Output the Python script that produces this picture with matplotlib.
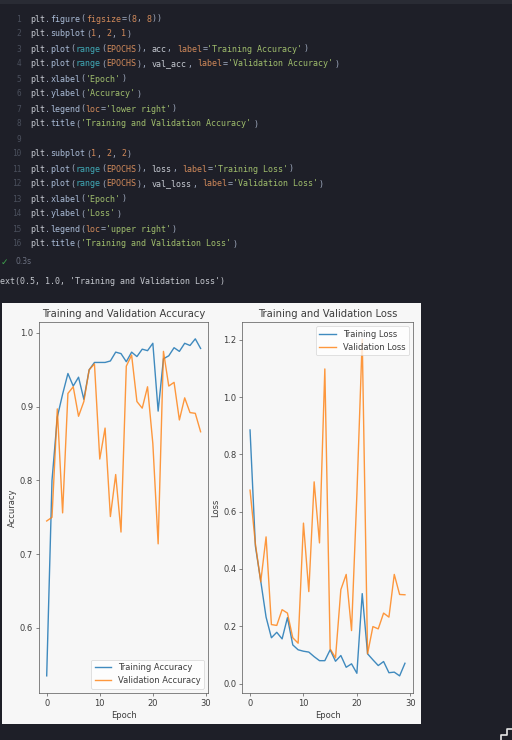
import re

import matplotlib
matplotlib.use("Agg")
import matplotlib.pyplot as plt
from matplotlib.lines import Line2D
from matplotlib.patches import Rectangle

EPOCHS = 30
acc = [0.535, 0.800, 0.886, 0.917, 0.945, 0.928, 0.940, 0.910, 0.950, 0.960,
       0.960, 0.960, 0.962, 0.974, 0.972, 0.961, 0.974, 0.968, 0.978, 0.976,
       0.986, 0.894, 0.965, 0.969, 0.980, 0.975, 0.986, 0.983, 0.992, 0.979]
val_acc = [0.745, 0.750, 0.897, 0.756, 0.918, 0.927, 0.887, 0.907, 0.950, 0.958,
           0.829, 0.871, 0.751, 0.808, 0.730, 0.955, 0.970, 0.907, 0.898, 0.927,
           0.850, 0.714, 0.975, 0.928, 0.933, 0.882, 0.912, 0.892, 0.891, 0.866]
loss = [0.885, 0.480, 0.358, 0.232, 0.160, 0.179, 0.156, 0.230, 0.135, 0.118,
        0.113, 0.110, 0.094, 0.080, 0.080, 0.118, 0.078, 0.098, 0.057, 0.069,
        0.036, 0.314, 0.104, 0.083, 0.063, 0.077, 0.038, 0.040, 0.027, 0.071]
val_loss = [0.675, 0.488, 0.355, 0.512, 0.206, 0.203, 0.258, 0.246, 0.160, 0.141,
            0.560, 0.321, 0.704, 0.491, 1.098, 0.121, 0.090, 0.328, 0.381, 0.185,
            0.660, 1.202, 0.104, 0.199, 0.191, 0.246, 0.232, 0.381, 0.311, 0.310]

code_lines = [
    "plt.figure(figsize=(8, 8))",
    "plt.subplot(1, 2, 1)",
    "plt.plot(range(EPOCHS), acc, label='Training Accuracy')",
    "plt.plot(range(EPOCHS), val_acc, label='Validation Accuracy')",
    "plt.xlabel('Epoch')",
    "plt.ylabel('Accuracy')",
    "plt.legend(loc='lower right')",
    "plt.title('Training and Validation Accuracy')",
    "",
    "plt.subplot(1, 2, 2)",
    "plt.plot(range(EPOCHS), loss, label='Training Loss')",
    "plt.plot(range(EPOCHS), val_loss, label='Validation Loss')",
    "plt.xlabel('Epoch')",
    "plt.ylabel('Loss')",
    "plt.legend(loc='upper right')",
    "plt.title('Training and Validation Loss')",
]
# the leading "T" is scrolled off the left edge in the screenshot
output_text = "ext(0.5, 1.0, 'Training and Validation Loss')"

W, H = 512, 740
BG = "#1e1f28"
C_NUM = "#d0895a"
C_STR = "#9fbd6c"
C_TEAL = "#3fa9b6"
C_FUNC = "#a9bbd6"
C_VAR = "#c6cad2"
C_PUNC = "#a0abc0"
C_LINENO = "#4a4f5c"
MONO = "DejaVu Sans Mono"
CW = 5.07  # px per character


def fx(x):
    return x / W


def fy(y):
    return 1 - y / H


fig = plt.figure(figsize=(W / 100, H / 100), dpi=100, facecolor=BG)
fig.add_artist(Rectangle((0, fy(4)), 1, 4 / H, transform=fig.transFigure,
                         facecolor="#292b34", edgecolor="none", zorder=0))

# code cell with a tiny tokenizer for the syntax colours
token_re = re.compile(r"('[^']*'|\d+(?:\.\d+)?|[A-Za-z_]\w*|\s+|.)")
for n, line in enumerate(code_lines):
    y = 19 + n * 15
    fig.text(fx(21), fy(y), str(n + 1), family=MONO, fontsize=5.6,
             color=C_LINENO, ha="right", va="center")
    toks = token_re.findall(line)
    col = 0
    for i, tok in enumerate(toks):
        nxt = next((t for t in toks[i + 1:] if not t.isspace()), "")
        if tok.isspace():
            color = None
        elif tok.startswith("'"):
            color = C_STR
        elif tok[0].isdigit():
            color = C_NUM
        elif tok == "range":
            color = C_TEAL
        elif tok == "EPOCHS" or (tok[0].isalpha() and nxt == "="):
            color = C_NUM
        elif tok[0].isalpha() or tok[0] == "_":
            color = C_FUNC if i > 0 and toks[i - 1] == "." else C_VAR
        else:
            color = C_PUNC
        if color:
            fig.text(fx(30 + col * CW), fy(y), tok, family=MONO, fontsize=6.06,
                     color=color, ha="left", va="center")
        col += len(tok)

fig.text(fx(1), fy(262), "\u2713", fontsize=6.5, color="#3fa34d", va="center")
fig.text(fx(16), fy(262), "0.3s", fontsize=5.5, color="#6b7080", va="center")
fig.text(fx(0), fy(282), output_text, family=MONO, fontsize=6.06,
         color="#c4c7ce", ha="left", va="center")

# embedded chart image
fig.add_artist(Rectangle((fx(2), fy(724)), (421 - 2) / W, (724 - 303) / H,
                         transform=fig.transFigure, facecolor="#f7f7f7",
                         edgecolor="none", zorder=0))
fig.add_artist(Line2D([fx(501), fx(501), fx(507), fx(507), fx(512)],
                      [fy(740), fy(735), fy(735), fy(729), fy(729)],
                      transform=fig.transFigure, color="#e6e6e6", lw=1.2))

plt.rcParams.update({
    "font.size": 6, "axes.titlesize": 7.2, "axes.titlepad": 3.6,
    "axes.labelpad": 2.4, "axes.linewidth": 0.5,
    "xtick.major.size": 2.1, "ytick.major.size": 2.1,
    "xtick.major.width": 0.5, "ytick.major.width": 0.5,
    "xtick.major.pad": 2.1, "ytick.major.pad": 2.1,
    "lines.linewidth": 1.0, "legend.fontsize": 6,
    "legend.frameon": True,
})
TXT = "#3d3d3d"

ax1 = fig.add_axes([fx(39), fy(692.7), (208.3 - 39) / W, (692.7 - 322) / H])
ax2 = fig.add_axes([fx(242.3), fy(692.7), (412.7 - 242.3) / W, (692.7 - 322.3) / H])

ax1.plot(range(EPOCHS), acc, label="Training Accuracy", color="#1f77b4", alpha=0.85)
ax1.plot(range(EPOCHS), val_acc, label="Validation Accuracy", color="#ff7f0e", alpha=0.8)
ax1.set_xlabel("Epoch")
ax1.set_ylabel("Accuracy")
ax1.legend(loc="lower right")
ax1.set_title("Training and Validation Accuracy")

ax2.plot(range(EPOCHS), loss, label="Training Loss", color="#1f77b4", alpha=0.85)
ax2.plot(range(EPOCHS), val_loss, label="Validation Loss", color="#ff7f0e", alpha=0.8)
ax2.set_xlabel("Epoch")
ax2.set_ylabel("Loss")
ax2.legend(loc="upper right")
ax2.set_title("Training and Validation Loss")

for ax in (ax1, ax2):
    ax.set_facecolor("#f7f7f7")
    for sp in ax.spines.values():
        sp.set_color("#555555")
    ax.tick_params(colors="#555555", labelcolor=TXT)
    ax.xaxis.label.set_color(TXT)
    ax.yaxis.label.set_color(TXT)
    ax.title.set_color(TXT)
    ax.get_legend().get_frame().set_linewidth(0.5)
    for t in ax.get_legend().get_texts():
        t.set_color(TXT)

fig.savefig("out.png", dpi=100, facecolor=BG)
